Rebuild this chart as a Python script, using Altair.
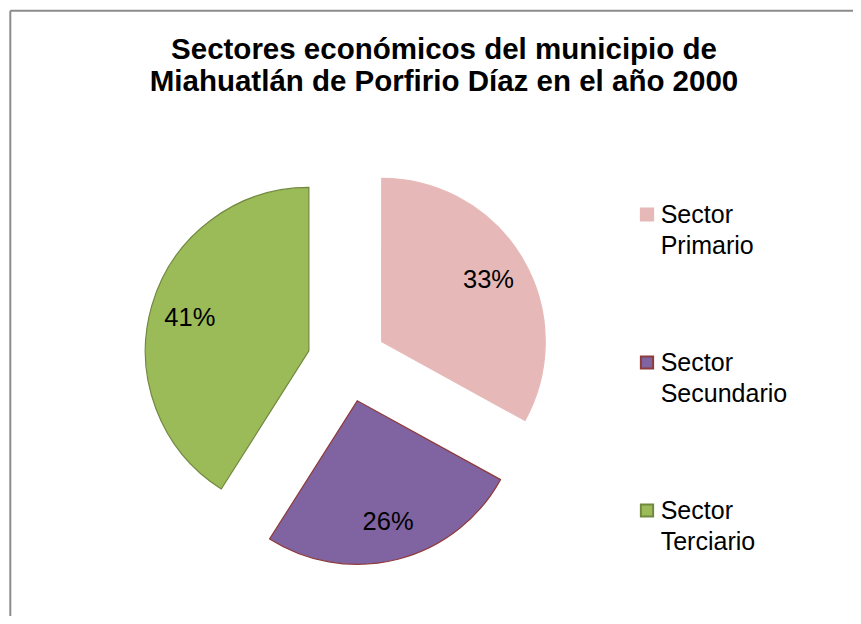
import altair as alt
import pandas as pd

# ---- data ----
sectors = ["Sector Primario", "Sector Secundario", "Sector Terciario"]
percent = [33, 26, 41]
title_lines = [
    "Sectores económicos del municipio de",
    "Miahuatlán de Porfirio Díaz en el año 2000",
]

# ---- styles / layout ----
fill_colors = ["#E6B9B8", "#8064A2", "#9BBB59"]
stroke_colors = ["#E6B9B8", "#8E3B3B", "#71893F"]
FONT = "Liberation Sans"
W, H = 845, 608
CX, CY = 339.3, 354.1      # pie centre (view px)
R = 163.5                  # pie radius
EXPLODE = 40               # slice explosion distance
LABEL_R = 164              # label distance from the pie centre

df = pd.DataFrame({"sector": sectors, "value": percent, "idx": list(range(len(sectors)))})

color = alt.Color("sector:N", scale=alt.Scale(domain=sectors, range=fill_colors), legend=None)
stroke = alt.Stroke("sector:N", scale=alt.Scale(domain=sectors, range=stroke_colors), legend=None)

base = (
    alt.Chart(df)
    .transform_window(cum="sum(value)", sort=[alt.SortField("idx")], frame=[None, 0])
    .transform_joinaggregate(total="sum(value)")
    .transform_calculate(start="datum.cum - datum.value")
    .transform_calculate(mid="2*PI*(datum.start + datum.value/2)/datum.total")
    .transform_calculate(
        cx=f"{CX} + {EXPLODE}*sin(datum.mid)",
        cy=f"{CY} - {EXPLODE}*cos(datum.mid)",
        lx=f"{CX} + {LABEL_R}*sin(datum.mid)",
        ly=f"{CY} - {LABEL_R}*cos(datum.mid)",
        label="datum.value + '%'",
    )
)

theta_scale = alt.Scale(domain=[0, sum(percent)], range=[0, 6.283185307179586])

arcs = base.mark_arc(radius=R, strokeWidth=1.2).encode(
    theta=alt.Theta("start:Q", scale=theta_scale, stack=False),
    theta2="cum:Q",
    x=alt.X("cx:Q", scale=None),
    y=alt.Y("cy:Q", scale=None),
    color=color,
    stroke=stroke,
)

labels = base.mark_text(font=FONT, fontSize=25.5, color="#000000", baseline="middle", dy=1.5).encode(
    x=alt.X("lx:Q", scale=None),
    y=alt.Y("ly:Q", scale=None),
    text="label:N",
)

# ---- legend (drawn from the same categories) ----
leg_y = alt.Y("sector:N", scale=alt.Scale(type="point", domain=sectors, range=[206.5, 502.5], padding=0), axis=None)

leg_sym = alt.Chart(df).mark_square(size=150, strokeWidth=2, opacity=1).encode(
    x=alt.value(639),
    y=leg_y,
    color=color,
    stroke=stroke,
)
leg_txt = alt.Chart(df).mark_text(
    font=FONT, fontSize=25, align="left", baseline="alphabetic", dy=8.5,
    lineBreak=" ", lineHeight=31, color="#000000",
).encode(
    x=alt.value(652.7),
    y=leg_y,
    text="sector:N",
)

# ---- title ----
title = alt.Chart(pd.DataFrame({"t": ["\n".join(title_lines)]})).mark_text(
    font=FONT, fontSize=29.5, fontWeight="bold", align="center", baseline="alphabetic",
    lineBreak="\n", lineHeight=31.7, color="#000000",
).encode(x=alt.value(436), y=alt.value(51.3), text="t:N")

# ---- chart frame (top and left edges visible) ----
frame_top = alt.Chart(alt.Data(values=[{}])).mark_rule(color="#8c8c8c", strokeWidth=2).encode(
    x=alt.value(2.3), x2=alt.value(W), y=alt.value(2.8)
)
frame_left = alt.Chart(alt.Data(values=[{}])).mark_rule(color="#8c8c8c", strokeWidth=2).encode(
    x=alt.value(2.3), y=alt.value(2.8), y2=alt.value(H)
)

chart = (
    alt.layer(frame_top, frame_left, arcs, labels, leg_sym, leg_txt, title)
    .resolve_scale(y="independent", x="independent")
    .properties(width=W, height=H, padding=0, autosize=alt.AutoSizeParams(type="none"), background="white")
    .configure_view(stroke=None)
)

chart.save("out.html", embed_options={"renderer": "svg", "actions": False})
